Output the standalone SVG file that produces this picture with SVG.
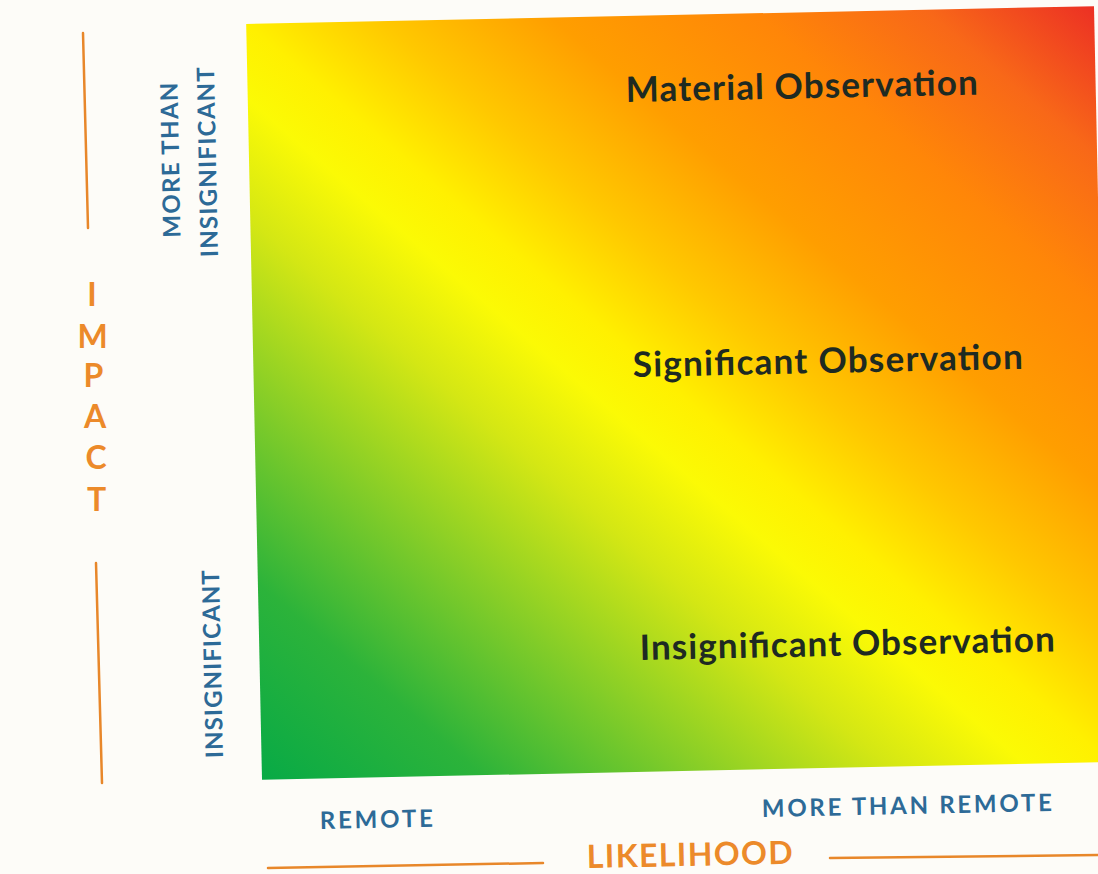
<svg xmlns="http://www.w3.org/2000/svg" width="1098" height="874" viewBox="0 0 1098 874">
  <defs>
    <linearGradient id="heat" x1="0" y1="1" x2="1" y2="0">
      <stop offset="0" stop-color="#08aa46"/>
      <stop offset="0.13" stop-color="#2cb33a"/>
      <stop offset="0.26" stop-color="#88ce27"/>
      <stop offset="0.37" stop-color="#d4e714"/>
      <stop offset="0.45" stop-color="#fbfa05"/>
      <stop offset="0.5" stop-color="#fff000"/>
      <stop offset="0.58" stop-color="#ffc800"/>
      <stop offset="0.68" stop-color="#ff9e00"/>
      <stop offset="0.8" stop-color="#ff8608"/>
      <stop offset="0.9" stop-color="#f86818"/>
      <stop offset="1" stop-color="#ec3024"/>
    </linearGradient>
    <style>
      .obs { font-family: Lato, "Liberation Sans", sans-serif; font-weight: 700; font-size: 35px; fill: #1e2a22; }
      .axis { font-family: Lato, "Liberation Sans", sans-serif; font-weight: 700; font-size: 24px; fill: #2d6a97; }
      .title { font-family: Lato, "Liberation Sans", sans-serif; font-weight: 700; font-size: 32px; fill: #ec8a2a; }
      .rule { stroke: #e8872a; stroke-width: 2.5; fill: none; stroke-linecap: round; }
    </style>
  </defs>
  <rect width="1098" height="874" fill="#fdfcf8"/>

  <g id="matrix">
    <rect x="254" y="15" width="848" height="756" fill="url(#heat)" transform="rotate(-1.2 678 393)"/>
  </g>

  <g id="zone-labels">
    <text id="material" class="obs" x="626" y="102" textLength="352" transform="rotate(-1.2 626 102)">Material Observation</text>
    <text id="significant" class="obs" x="633" y="377" textLength="390" transform="rotate(-1.2 633 377)">Significant Observation</text>
    <text id="insignificant-obs" class="obs" x="640" y="660" textLength="415" transform="rotate(-1.2 640 660)">Insignificant Observation</text>
  </g>

  <g id="impact-axis">
    <line class="rule" x1="83" y1="33" x2="88" y2="228"/>
    <line class="rule" x1="96" y1="563" x2="102" y2="783"/>
    <g class="title" text-anchor="middle">
      <text x="92" y="306">I</text>
      <text x="92.5" y="348">M</text>
      <text x="93.5" y="387">P</text>
      <text x="95" y="428">A</text>
      <text x="96" y="469">C</text>
      <text x="96.5" y="511">T</text>
    </g>
    <text class="axis" text-anchor="middle" x="179" y="160" textLength="155" transform="rotate(-91.2 179 160)">MORE THAN</text>
    <text class="axis" text-anchor="middle" x="216" y="162" textLength="190" transform="rotate(-91.2 216 162)">INSIGNIFICANT</text>
    <text class="axis" text-anchor="middle" x="221" y="664" textLength="188" transform="rotate(-91.2 221 664)">INSIGNIFICANT</text>
  </g>

  <g id="likelihood-axis">
    <line class="rule" x1="268" y1="868" x2="543" y2="863"/>
    <line class="rule" x1="830" y1="858" x2="1098" y2="855"/>
    <text class="axis" x="320" y="829" textLength="113" transform="rotate(-1.2 320 829)">REMOTE</text>
    <text class="axis" x="762" y="817" textLength="290" transform="rotate(-1.2 762 817)">MORE THAN REMOTE</text>
    <text class="title" x="587" y="868" textLength="206" transform="rotate(-1.2 587 868)">LIKELIHOOD</text>
  </g>
</svg>
